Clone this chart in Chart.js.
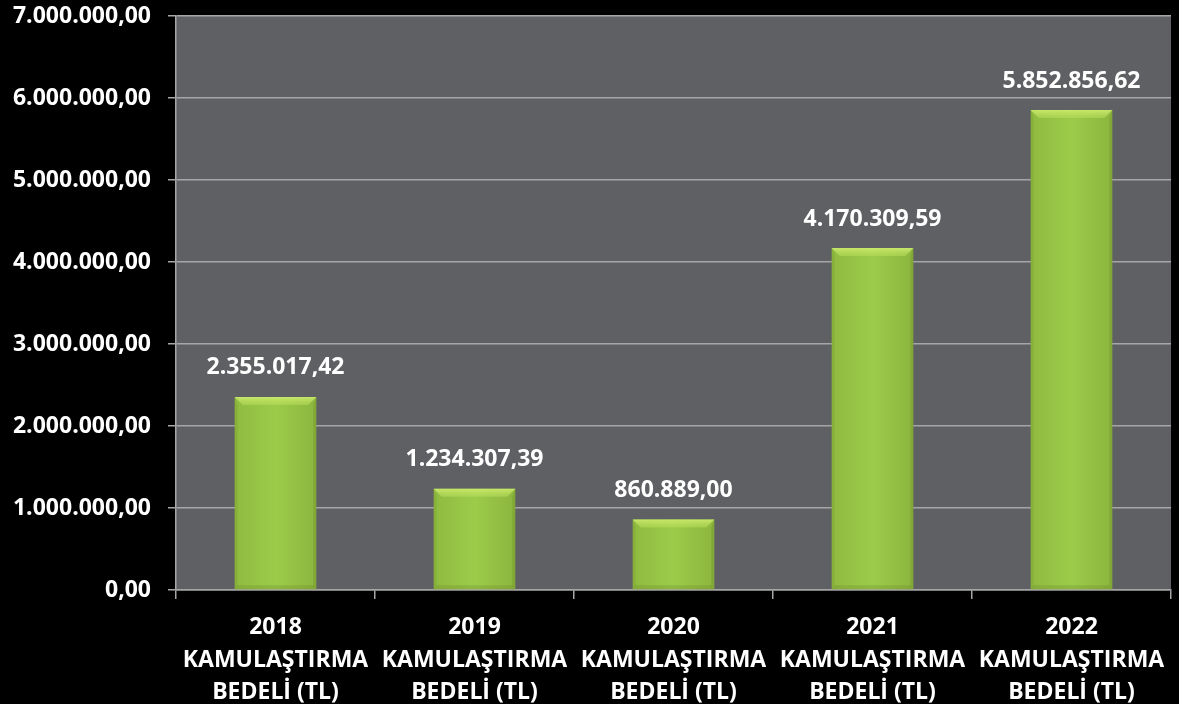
<!DOCTYPE html>
<html>
<head>
<meta charset="utf-8">
<script src="https://cdn.jsdelivr.net/npm/chart.js@4.4.1/dist/chart.umd.min.js"></script>
<style>
html,body{margin:0;padding:0;background:#000;}
#wrap{width:1179px;height:704px;position:relative;}
</style>
</head>
<body>
<div id="wrap"><canvas id="c" width="1179" height="704"></canvas></div>
<script>
const categories = [
  ["2018", "KAMULAŞTIRMA", "BEDELİ (TL)"],
  ["2019", "KAMULAŞTIRMA", "BEDELİ (TL)"],
  ["2020", "KAMULAŞTIRMA", "BEDELİ (TL)"],
  ["2021", "KAMULAŞTIRMA", "BEDELİ (TL)"],
  ["2022", "KAMULAŞTIRMA", "BEDELİ (TL)"]
];
const values = [2355017.42, 1234307.39, 860889.00, 4170309.59, 5852856.62];
const yMin = 0, yMax = 7000000, yStep = 1000000;

function trFormat(v) {
  const fixed = Math.abs(v).toFixed(2);
  let [intPart, dec] = fixed.split(".");
  intPart = intPart.replace(/\B(?=(\d{3})+(?!\d))/g, ".");
  return (v < 0 ? "-" : "") + intPart + "," + dec;
}

const FONT = "'Open Sans', sans-serif";
const FS = 23;

const bgPlugin = {
  id: 'plotBg',
  beforeDraw(chart) {
    const {ctx, chartArea: a} = chart;
    ctx.save();
    ctx.fillStyle = '#000';
    ctx.fillRect(0, 0, chart.width, chart.height);
    ctx.fillStyle = '#5f6064';
    ctx.fillRect(a.left, a.top, a.right - a.left, a.bottom - a.top);
    ctx.restore();
  }
};

const barDeco = {
  id: 'barDeco',
  afterDatasetsDraw(chart) {
    const ctx = chart.ctx;
    const meta = chart.getDatasetMeta(0);
    ctx.save();
    meta.data.forEach((bar, i) => {
      const l = bar.x - bar.width / 2, r = bar.x + bar.width / 2;
      const t = bar.y, b = bar.base;
      const bev = 8;
      ctx.beginPath();
      ctx.moveTo(l, t); ctx.lineTo(r, t); ctx.lineTo(r - bev, t + bev); ctx.lineTo(l + bev, t + bev); ctx.closePath();
      const g = ctx.createLinearGradient(0, t, 0, t + bev);
      g.addColorStop(0, 'rgba(205,235,110,0.9)');
      g.addColorStop(1, 'rgba(185,222,90,0.5)');
      ctx.fillStyle = g; ctx.fill();
      ctx.beginPath();
      ctx.moveTo(l, t); ctx.lineTo(l + 3, t + bev); ctx.lineTo(l + 3, b - 3); ctx.lineTo(l, b); ctx.closePath();
      ctx.fillStyle = 'rgba(100,130,40,0.18)'; ctx.fill();
      ctx.beginPath();
      ctx.moveTo(r, t); ctx.lineTo(r - 3, t + bev); ctx.lineTo(r - 3, b - 3); ctx.lineTo(r, b); ctx.closePath();
      ctx.fillStyle = 'rgba(90,120,30,0.22)'; ctx.fill();
      ctx.beginPath();
      ctx.moveTo(l, b); ctx.lineTo(r, b); ctx.lineTo(r - 3, b - 4); ctx.lineTo(l + 3, b - 4); ctx.closePath();
      ctx.fillStyle = 'rgba(90,120,30,0.22)'; ctx.fill();
      ctx.fillStyle = '#ffffff';
      ctx.font = "bold " + FS + "px " + FONT;
      ctx.textAlign = 'center';
      ctx.textBaseline = 'middle';
      ctx.fillText(trFormat(values[i]), bar.x, t - 29);
    });
    ctx.restore();
  }
};

const ctx = document.getElementById('c').getContext('2d');
new Chart(ctx, {
  type: 'bar',
  data: {
    labels: categories,
    datasets: [{
      data: values,
      backgroundColor: function(context) {
        const chart = context.chart;
        const xs = chart.scales.x;
        if (!xs || !chart.chartArea) return '#96c545';
        const cx = xs.getPixelForValue(context.dataIndex);
        const w = (xs.width / categories.length) * 0.41;
        const g = chart.ctx.createLinearGradient(cx - w / 2, 0, cx + w / 2, 0);
        g.addColorStop(0, '#8fbb40');
        g.addColorStop(0.5, '#9ccb4a');
        g.addColorStop(1, '#8cb63e');
        return g;
      },
      borderWidth: 0,
      categoryPercentage: 1.0,
      barPercentage: 0.41
    }]
  },
  options: {
    responsive: false,
    animation: false,
    devicePixelRatio: 1,
    layout: { padding: { top: 0, right: 8, left: 0, bottom: 0 } },
    plugins: { legend: { display: false }, tooltip: { enabled: false } },
    scales: {
      x: {
        offset: true,
        grid: { display: true, drawOnChartArea: false, drawTicks: true, tickLength: 9, color: '#a6a6a6', lineWidth: 1.5, offset: true },
        border: { display: true, color: '#a6a6a6', width: 1.5 },
        ticks: {
          color: '#ffffff',
          font: { family: FONT, weight: 'bold', size: FS, lineHeight: 1.42 },
          padding: 12,
          maxRotation: 0, autoSkip: false
        },
        afterFit(scale) { scale.height = 114; }
      },
      y: {
        min: yMin, max: yMax,
        grid: { color: '#a6a6a6', lineWidth: 1.5, tickLength: 8, drawTicks: true },
        border: { display: true, color: '#a6a6a6', width: 1.5 },
        ticks: {
          stepSize: yStep,
          color: '#ffffff',
          font: { family: FONT, weight: 'bold', size: FS },
          padding: 17,
          callback: (v) => trFormat(v)
        },
        afterFit(scale) { scale.width = 176; scale.paddingTop = 16; scale.paddingBottom = 0; }
      }
    }
  },
  plugins: [bgPlugin, barDeco]
});
</script>
</body>
</html>
